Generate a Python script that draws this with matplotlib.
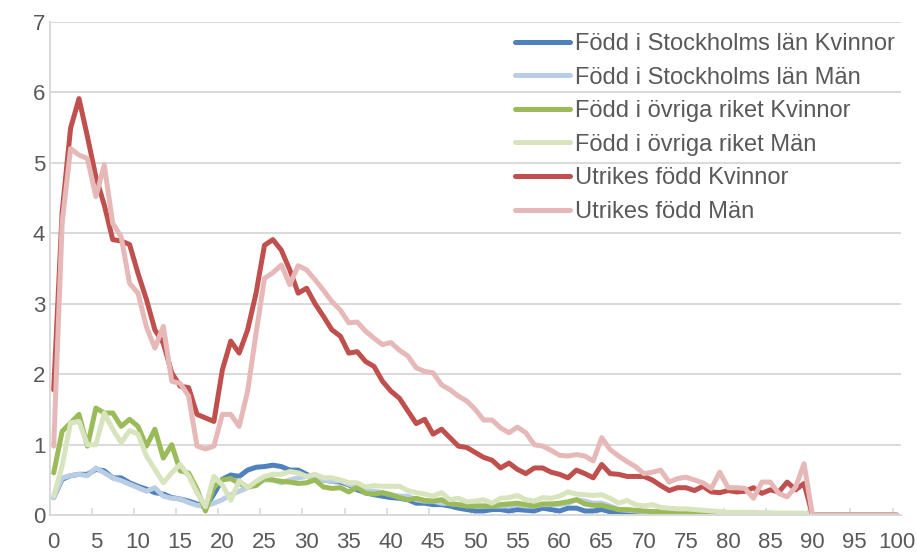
import matplotlib
matplotlib.use("Agg")
import matplotlib.pyplot as plt
import numpy as np

ages = list(range(0, 101))

stockholm_kvinnor = [
    0.25, 0.51, 0.56, 0.58, 0.58, 0.65, 0.63, 0.53, 0.53, 0.46,
    0.41, 0.37, 0.32, 0.30, 0.25, 0.23, 0.20, 0.16, 0.11, 0.30,
    0.51, 0.57, 0.55, 0.64, 0.68, 0.69, 0.71, 0.69, 0.64, 0.64,
    0.58, 0.52, 0.50, 0.48, 0.47, 0.43, 0.36, 0.32, 0.29, 0.27,
    0.25, 0.24, 0.22, 0.17, 0.17, 0.15, 0.15, 0.13, 0.10, 0.08,
    0.06, 0.06, 0.08, 0.08, 0.06, 0.08, 0.07, 0.06, 0.10, 0.08,
    0.06, 0.10, 0.10, 0.06, 0.06, 0.08, 0.05, 0.03, 0.04, 0.04,
    0.04, 0.04, 0.03, 0.03, 0.03, 0.03, 0.03, 0.03, 0.02, 0.02,
    0.02, 0.03, 0.02, 0.02, 0.02, 0.02, 0.02, 0.02, 0.02, 0.02,
    0.0, 0.0, 0.0, 0.0, 0.0, 0.0, 0.0, 0.0, 0.0, 0.0, 0.0]

stockholm_man = [
    0.25, 0.53, 0.56, 0.58, 0.56, 0.67, 0.60, 0.53, 0.49, 0.44,
    0.39, 0.34, 0.39, 0.27, 0.24, 0.23, 0.18, 0.14, 0.13, 0.17,
    0.22, 0.29, 0.34, 0.39, 0.44, 0.50, 0.50, 0.46, 0.50, 0.53,
    0.55, 0.52, 0.50, 0.48, 0.49, 0.44, 0.39, 0.34, 0.34, 0.32,
    0.29, 0.27, 0.27, 0.22, 0.20, 0.20, 0.17, 0.17, 0.15, 0.15,
    0.13, 0.13, 0.13, 0.13, 0.13, 0.15, 0.13, 0.13, 0.15, 0.15,
    0.15, 0.17, 0.22, 0.20, 0.17, 0.17, 0.13, 0.08, 0.07, 0.06,
    0.05, 0.05, 0.05, 0.05, 0.05, 0.05, 0.04, 0.04, 0.04, 0.04,
    0.03, 0.03, 0.03, 0.03, 0.03, 0.03, 0.02, 0.02, 0.02, 0.02,
    0.0, 0.0, 0.0, 0.0, 0.0, 0.0, 0.0, 0.0, 0.0, 0.0, 0.0]

ovriga_kvinnor = [
    0.60, 1.19, 1.31, 1.43, 0.98, 1.52, 1.45, 1.45, 1.26, 1.36,
    1.26, 0.98, 1.22, 0.81, 1.00, 0.63, 0.60, 0.37, 0.06, 0.40,
    0.50, 0.52, 0.45, 0.40, 0.42, 0.52, 0.50, 0.48, 0.47, 0.45,
    0.46, 0.50, 0.40, 0.38, 0.39, 0.33, 0.40, 0.31, 0.30, 0.32,
    0.29, 0.25, 0.22, 0.24, 0.21, 0.20, 0.22, 0.16, 0.15, 0.13,
    0.13, 0.13, 0.13, 0.15, 0.16, 0.17, 0.15, 0.13, 0.16, 0.16,
    0.17, 0.19, 0.22, 0.16, 0.14, 0.14, 0.11, 0.08, 0.08, 0.07,
    0.06, 0.05, 0.05, 0.04, 0.04, 0.04, 0.03, 0.03, 0.03, 0.03,
    0.03, 0.03, 0.03, 0.02, 0.02, 0.02, 0.02, 0.02, 0.02, 0.02,
    0.0, 0.0, 0.0, 0.0, 0.0, 0.0, 0.0, 0.0, 0.0, 0.0, 0.0]

ovriga_man = [
    0.27, 0.70, 1.31, 1.33, 1.00, 1.00, 1.45, 1.22, 1.03, 1.20,
    1.15, 0.84, 0.65, 0.46, 0.60, 0.72, 0.56, 0.32, 0.12, 0.55,
    0.43, 0.21, 0.49, 0.39, 0.48, 0.55, 0.58, 0.58, 0.62, 0.60,
    0.55, 0.58, 0.53, 0.53, 0.50, 0.46, 0.46, 0.40, 0.42, 0.41,
    0.41, 0.41, 0.35, 0.32, 0.30, 0.27, 0.32, 0.22, 0.24, 0.19,
    0.20, 0.22, 0.17, 0.24, 0.25, 0.28, 0.22, 0.20, 0.25, 0.24,
    0.27, 0.33, 0.30, 0.29, 0.28, 0.29, 0.24, 0.17, 0.21, 0.15,
    0.13, 0.15, 0.11, 0.10, 0.09, 0.09, 0.08, 0.07, 0.06, 0.05,
    0.04, 0.04, 0.04, 0.04, 0.03, 0.03, 0.03, 0.03, 0.03, 0.03,
    0.0, 0.0, 0.0, 0.0, 0.0, 0.0, 0.0, 0.0, 0.0, 0.0, 0.0]

utrikes_kvinnor = [
    1.78, 4.30, 5.49, 5.91, 5.37, 4.80, 4.40, 3.91, 3.89, 3.84,
    3.43, 3.06, 2.63, 2.44, 2.02, 1.83, 1.81, 1.43, 1.38, 1.33,
    2.06, 2.47, 2.30, 2.63, 3.15, 3.83, 3.91, 3.76, 3.48, 3.15,
    3.22, 3.00, 2.82, 2.63, 2.54, 2.30, 2.32, 2.18, 2.11, 1.90,
    1.76, 1.66, 1.48, 1.30, 1.36, 1.15, 1.22, 1.10, 0.98, 0.96,
    0.89, 0.82, 0.78, 0.67, 0.74, 0.65, 0.59, 0.67, 0.67, 0.61,
    0.58, 0.53, 0.64, 0.59, 0.53, 0.72, 0.59, 0.58, 0.55, 0.55,
    0.55, 0.50, 0.42, 0.35, 0.39, 0.39, 0.35, 0.41, 0.33, 0.32,
    0.35, 0.33, 0.34, 0.39, 0.31, 0.36, 0.33, 0.47, 0.36, 0.45,
    0.0, 0.0, 0.0, 0.0, 0.0, 0.0, 0.0, 0.0, 0.0, 0.0, 0.0]

utrikes_man = [
    0.98, 4.15, 5.20, 5.11, 5.06, 4.52, 4.97, 4.14, 3.95, 3.29,
    3.15, 2.67, 2.37, 2.68, 1.90, 1.87, 1.69, 0.98, 0.94, 0.98,
    1.43, 1.43, 1.26, 1.76, 2.58, 3.36, 3.44, 3.55, 3.27, 3.54,
    3.48, 3.34, 3.19, 3.03, 2.91, 2.73, 2.74, 2.61, 2.51, 2.42,
    2.45, 2.34, 2.26, 2.09, 2.04, 2.02, 1.85, 1.78, 1.69, 1.62,
    1.50, 1.35, 1.35, 1.24, 1.17, 1.25, 1.17, 1.00, 0.98, 0.92,
    0.85, 0.84, 0.86, 0.84, 0.77, 1.10, 0.93, 0.84, 0.76, 0.69,
    0.59, 0.61, 0.64, 0.47, 0.52, 0.54, 0.50, 0.46, 0.38, 0.61,
    0.39, 0.39, 0.38, 0.24, 0.47, 0.47, 0.31, 0.26, 0.40, 0.73,
    0.0, 0.0, 0.0, 0.0, 0.0, 0.0, 0.0, 0.0, 0.0, 0.0, 0.0]

series_labels = [
    "Född i Stockholms län Kvinnor",
    "Född i Stockholms län Män",
    "Född i övriga riket Kvinnor",
    "Född i övriga riket Män",
    "Utrikes född Kvinnor",
    "Utrikes född Män",
]
series_values = [stockholm_kvinnor, stockholm_man, ovriga_kvinnor,
                 ovriga_man, utrikes_kvinnor, utrikes_man]
colors = ["#4F81BD", "#B9CDE5", "#9BBB59", "#D7E4BD", "#C0504D", "#E6B9B8"]

x_tick_labels = [str(v) for v in range(0, 101, 5)]
y_ticks = list(range(0, 8))

plt.rcParams['font.family'] = ['Liberation Sans', 'DejaVu Sans']
text_color = "#595959"
fs_tick = 16
fs_leg = 17

fig = plt.figure(figsize=(9.17, 5.56), dpi=100)
ax = fig.add_axes([49.5 / 917, 1 - 515.2 / 556, (901 - 49.5) / 917, (515.2 - 21.8) / 556])

for vals, lab, col in zip(series_values, series_labels, colors):
    ax.plot(ages, vals, color=col, lw=3.6, label=lab,
            solid_joinstyle='round', solid_capstyle='round')

ax.set_xlim(-0.5, 100.5)
ax.set_ylim(0, 7)
ax.set_yticks(y_ticks)
ax.set_yticklabels([str(v) for v in y_ticks])
ax.set_xticks(list(range(0, 101, 5)))
ax.set_xticklabels(x_tick_labels)
ax.set_xticks([i - 0.5 for i in range(5, 101, 5)], minor=True)

ax.grid(axis='y', color="#D9D9D9", lw=1.4)
ax.set_axisbelow(True)
for s in ['top', 'right']:
    ax.spines[s].set_visible(False)
for s in ['left', 'bottom']:
    ax.spines[s].set_color("#D9D9D9")
    ax.spines[s].set_linewidth(1.4)

ax.tick_params(axis='y', length=0, pad=3, labelsize=fs_tick, labelcolor=text_color)
ax.tick_params(axis='x', which='major', length=0, pad=12, labelsize=fs_tick, labelcolor=text_color)
ax.tick_params(axis='x', which='minor', length=5, width=1.2, direction='in', color="#D9D9D9")

leg = ax.legend(loc='upper left', bbox_to_anchor=(515 / 917, 1 - 33 / 556),
                bbox_transform=fig.transFigure, frameon=False, fontsize=fs_leg,
                handlelength=2.35, handletextpad=0.2, labelspacing=0.49,
                borderpad=0, borderaxespad=0)
for t in leg.get_texts():
    t.set_color(text_color)

fig.savefig("out.png", dpi=100)
